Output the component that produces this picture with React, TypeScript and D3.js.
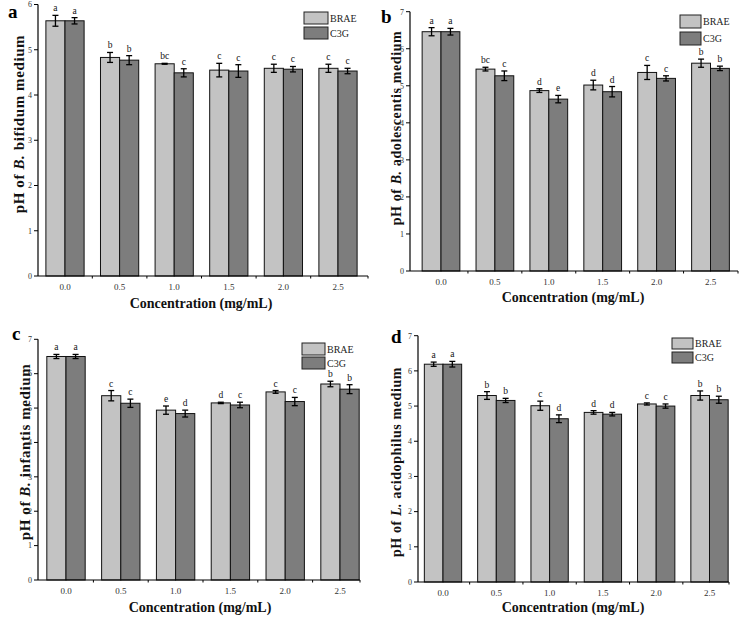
import React from "react";
import * as d3 from "d3";

const categories = ["0.0", "0.5", "1.0", "1.5", "2.0", "2.5"];
const seriesNames = ["BRAE", "C3G"];
const seriesColors = ["#c3c3c3", "#7d7d7d"];

// Panel a: B. bifidum
const aBRAE = [5.64, 4.83, 4.69, 4.55, 4.59, 4.59];
const aBRAEErr = [0.12, 0.11, 0.01, 0.15, 0.09, 0.09];
const aC3G = [5.64, 4.77, 4.49, 4.53, 4.57, 4.53];
const aC3GErr = [0.07, 0.1, 0.09, 0.14, 0.06, 0.06];
const aBRAELetters = ["a", "b", "bc", "c", "c", "c"];
const aC3GLetters = ["a", "b", "c", "c", "c", "c"];

// Panel b: B. adolescentis
const bBRAE = [6.46, 5.45, 4.87, 5.02, 5.36, 5.61];
const bBRAEErr = [0.11, 0.05, 0.05, 0.13, 0.19, 0.11];
const bC3G = [6.46, 5.27, 4.64, 4.84, 5.2, 5.47];
const bC3GErr = [0.09, 0.13, 0.1, 0.14, 0.07, 0.06];
const bBRAELetters = ["a", "bc", "d", "d", "c", "b"];
const bC3GLetters = ["a", "c", "e", "d", "c", "b"];

// Panel c: B. infantis
const cBRAE = [6.5, 5.36, 4.94, 5.15, 5.47, 5.7];
const cBRAEErr = [0.06, 0.15, 0.12, 0.02, 0.04, 0.08];
const cC3G = [6.5, 5.14, 4.84, 5.09, 5.19, 5.55];
const cC3GErr = [0.06, 0.12, 0.1, 0.08, 0.12, 0.13];
const cBRAELetters = ["a", "c", "e", "d", "c", "b"];
const cC3GLetters = ["a", "c", "d", "c", "c", "b"];

// Panel d: L. acidophilus
const dBRAE = [6.19, 5.3, 5.01, 4.82, 5.06, 5.3];
const dBRAEErr = [0.06, 0.11, 0.13, 0.05, 0.03, 0.13];
const dC3G = [6.19, 5.16, 4.64, 4.77, 5.0, 5.18];
const dC3GErr = [0.08, 0.06, 0.11, 0.05, 0.06, 0.1];
const dBRAELetters = ["a", "b", "c", "d", "c", "b"];
const dC3GLetters = ["a", "b", "d", "d", "c", "b"];

const serif = "'Liberation Serif', 'Times New Roman', serif";

type PanelCfg = {
  tag: string;
  genus: string;
  species: string;
  vals: number[][];
  errs: number[][];
  letters: string[][];
  ymax: number;
  axisLeft: number;
  axisRight: number;
  firstCenter: number;
  step: number;
  y0: number;
  yTop: number;
  tagX: number;
  tagY: number;
  yTitleX: number;
  yTitleY: number;
  yTitleSize: number;
  xTitleX: number;
  xTitleY: number;
  legX: number;
  legY: number;
  legW: number;
  legH: number;
  legGap: number;
};

const panels: PanelCfg[] = [
  {
    tag: "a", genus: "B.", species: "bifidum",
    vals: [aBRAE, aC3G], errs: [aBRAEErr, aC3GErr], letters: [aBRAELetters, aC3GLetters],
    ymax: 6, axisLeft: 38, axisRight: 368, firstCenter: 65, step: 54.6, y0: 276, yTop: 4.5,
    tagX: 8, tagY: 18, yTitleX: 24, yTitleY: 124, yTitleSize: 15, xTitleX: 201, xTitleY: 308,
    legX: 304, legY: 12, legW: 24, legH: 12, legGap: 3,
  },
  {
    tag: "b", genus: "B.", species: "adolescentis",
    vals: [bBRAE, bC3G], errs: [bBRAEErr, bC3GErr], letters: [bBRAELetters, bC3GLetters],
    ymax: 7, axisLeft: 410, axisRight: 738, firstCenter: 441, step: 53.9, y0: 271, yTop: 11.7,
    tagX: 381, tagY: 23, yTitleX: 401, yTitleY: 128, yTitleSize: 14, xTitleX: 573, xTitleY: 302,
    legX: 680, legY: 15, legW: 21, legH: 13, legGap: 4,
  },
  {
    tag: "c", genus: "B.", species: "infantis",
    vals: [cBRAE, cC3G], errs: [cBRAEErr, cC3GErr], letters: [cBRAELetters, cC3GLetters],
    ymax: 7, axisLeft: 38, axisRight: 360, firstCenter: 66, step: 54.8, y0: 580, yTop: 339.3,
    tagX: 12, tagY: 340, yTitleX: 30, yTitleY: 452, yTitleSize: 15, xTitleX: 200, xTitleY: 612,
    legX: 302, legY: 343, legW: 23, legH: 12, legGap: 2,
  },
  {
    tag: "d", genus: "L.", species: "acidophilus",
    vals: [dBRAE, dC3G], errs: [dBRAEErr, dC3GErr], letters: [dBRAELetters, dC3GLetters],
    ymax: 7, axisLeft: 418, axisRight: 729, firstCenter: 443, step: 53.3, y0: 582, yTop: 335.7,
    tagX: 391, tagY: 343, yTitleX: 401, yTitleY: 462, yTitleSize: 14, xTitleX: 573, xTitleY: 612,
    legX: 672, legY: 338, legW: 21, legH: 11, legGap: 3,
  },
];

function Panel({ p }: { p: PanelCfg }) {
  const bandStart = p.firstCenter - p.step / 2;
  const x = d3
    .scaleBand<string>()
    .domain(categories)
    .range([bandStart, bandStart + p.step * categories.length])
    .paddingInner(0.3)
    .paddingOuter(0.15);
  const xs = d3.scaleBand<string>().domain(seriesNames).range([0, x.bandwidth()]);
  const y = d3.scaleLinear().domain([0, p.ymax]).range([p.y0, p.yTop]);
  const yTicks = y.ticks(p.ymax);
  const boundaries = categories.slice(1).map((c) => (x(c) as number) - (x.step() * 0.3) / 2);

  return (
    <g>
      {seriesNames.map((s, si) =>
        categories.map((c, ci) => {
          const v = p.vals[si][ci];
          const e = p.errs[si][ci];
          const bx = (x(c) as number) + (xs(s) as number);
          const cx = bx + xs.bandwidth() / 2;
          return (
            <g key={s + c}>
              <rect
                x={bx}
                y={y(v)}
                width={xs.bandwidth()}
                height={p.y0 - y(v)}
                fill={seriesColors[si]}
                stroke="#111"
                strokeWidth={1}
              />
              <line x1={cx} x2={cx} y1={y(v + e)} y2={y(v - e)} stroke="#000" strokeWidth={1.3} />
              <line x1={cx - 3} x2={cx + 3} y1={y(v + e)} y2={y(v + e)} stroke="#000" strokeWidth={1.3} />
              <line x1={cx - 3} x2={cx + 3} y1={y(v - e)} y2={y(v - e)} stroke="#000" strokeWidth={1.3} />
              <text
                x={cx}
                y={y(v + e) - 4}
                textAnchor="middle"
                fontFamily={serif}
                fontSize={9.5}
                fill="#111"
              >
                {p.letters[si][ci]}
              </text>
            </g>
          );
        })
      )}
      <line x1={p.axisLeft} x2={p.axisLeft} y1={y(p.ymax)} y2={p.y0} stroke="#000" strokeWidth={1.2} />
      {yTicks.map((t) => (
        <g key={t}>
          <line x1={p.axisLeft - 4} x2={p.axisLeft} y1={y(t)} y2={y(t)} stroke="#000" strokeWidth={1} />
          <text
            x={p.axisLeft - 6}
            y={y(t)}
            dy="0.35em"
            textAnchor="end"
            fontFamily={serif}
            fontSize={8}
            fill="#333"
          >
            {t}
          </text>
        </g>
      ))}
      <line x1={p.axisLeft} x2={p.axisRight} y1={p.y0} y2={p.y0} stroke="#000" strokeWidth={1.2} />
      {boundaries.map((bx, i) => (
        <line key={i} x1={bx} x2={bx} y1={p.y0} y2={p.y0 + 2.5} stroke="#000" strokeWidth={1} />
      ))}
      <line x1={p.axisRight} x2={p.axisRight} y1={p.y0} y2={p.y0 + 2.5} stroke="#000" strokeWidth={1} />
      {categories.map((c) => (
        <text
          key={c}
          x={(x(c) as number) + x.bandwidth() / 2}
          y={p.y0 + 14}
          textAnchor="middle"
          fontFamily={serif}
          fontSize={9}
          fill="#333"
        >
          {c}
        </text>
      ))}
      <text
        x={p.xTitleX}
        y={p.xTitleY}
        textAnchor="middle"
        fontFamily={serif}
        fontWeight="bold"
        fontSize={14}
        fill="#111"
      >
        Concentration (mg/mL)
      </text>
      <text
        transform={`translate(${p.yTitleX},${p.yTitleY}) rotate(-90)`}
        textAnchor="middle"
        fontFamily={serif}
        fontWeight="bold"
        fontSize={p.yTitleSize}
        letterSpacing={0.6}
        fill="#111"
      >
        pH of <tspan fontStyle="italic">{p.genus}</tspan> {p.species} medium
      </text>
      <text x={p.tagX} y={p.tagY} fontFamily={serif} fontWeight="bold" fontSize={19} fill="#000">
        {p.tag}
      </text>
      {seriesNames.map((s, si) => (
        <g key={s}>
          <rect
            x={p.legX}
            y={p.legY + si * (p.legH + p.legGap)}
            width={p.legW}
            height={p.legH}
            fill={seriesColors[si]}
            stroke="#222"
            strokeWidth={1}
          />
          <text
            x={p.legX + p.legW + 2}
            y={p.legY + si * (p.legH + p.legGap) + p.legH / 2}
            dy="0.35em"
            fontFamily={serif}
            fontSize={10}
            fill="#222"
          >
            {s}
          </text>
        </g>
      ))}
    </g>
  );
}

export default function App() {
  return (
    <svg
      width={740}
      height={617}
      style={{ position: "absolute", left: 0, top: 0, background: "#fff" }}
    >
      <rect width={740} height={617} fill="#fff" />
      {panels.map((p) => (
        <Panel key={p.tag} p={p} />
      ))}
    </svg>
  );
}
